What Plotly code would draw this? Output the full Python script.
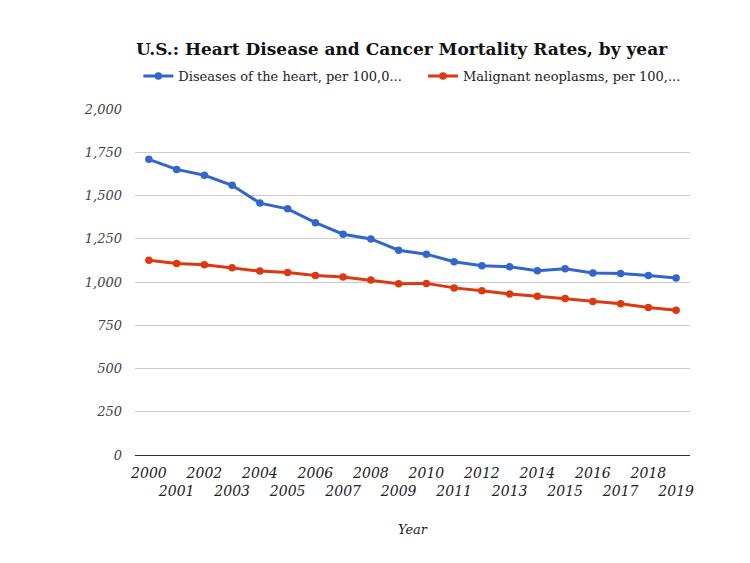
import plotly.graph_objects as go

years = list(range(2000, 2020))
heart = [1709, 1651, 1617, 1559, 1456, 1423, 1343, 1276, 1249, 1184,
         1161, 1117, 1094, 1088, 1065, 1076, 1052, 1049, 1038, 1023]
cancer = [1126, 1107, 1099, 1082, 1063, 1055, 1038, 1029, 1011, 990,
          992, 966, 950, 931, 917, 904, 887, 874, 852, 837]
y_ticks = [0, 250, 500, 750, 1000, 1250, 1500, 1750, 2000]

# odd years go on a second row, like the staggered labels in the original
x_ticktext = [str(y) if y % 2 == 0 else f"<br>{y}" for y in years]

FONT = "DejaVu Serif"
# the page body has an 8px margin, so the figure is sized to fit inside it
W, H = 742, 555

fig = go.Figure()
fig.add_trace(
    go.Scatter(
        x=years,
        y=heart,
        mode="lines+markers",
        name="Diseases of the heart, per 100,0...",
        line={"color": "#3366cc", "width": 3},
        marker={"color": "#3366cc", "size": 7.5},
        legend="legend",
    )
)
fig.add_trace(
    go.Scatter(
        x=years,
        y=cancer,
        mode="lines+markers",
        name="Malignant neoplasms, per 100,...",
        line={"color": "#dc3912", "width": 3},
        marker={"color": "#dc3912", "size": 7.5},
        legend="legend2",
    )
)

fig.update_xaxes(
    range=[1999.5, 2019.5],
    tickvals=years,
    ticktext=x_ticktext,
    tickangle=0,
    showgrid=False,
    showline=True,
    linecolor="#333333",
    linewidth=1,
    ticks="",
    ticklabelstandoff=5,
    tickfont={"family": FONT, "size": 14, "color": "#222222", "style": "italic"},
    title={"text": "Year", "font": {"family": FONT, "size": 13, "color": "#222222", "style": "italic"},
           "standoff": 26},
)
fig.update_yaxes(
    range=[0, 2000],
    tickvals=y_ticks,
    tickformat=",",
    showgrid=True,
    gridcolor="#cccccc",
    zeroline=False,
    ticks="",
    ticklabelstandoff=12,
    tickfont={"family": FONT, "size": 13, "color": "#444444", "style": "italic"},
)

legend_style = {
    "orientation": "h",
    "xanchor": "left",
    "y": 1.095,
    "yanchor": "middle",
    "font": {"family": FONT, "size": 13, "color": "#222222"},
}

fig.update_layout(
    width=W,
    height=H,
    template="plotly_white",
    plot_bgcolor="white",
    paper_bgcolor="white",
    title={
        "text": "<b>U.S.: Heart Disease and Cancer Mortality Rates, by year</b>",
        "font": {"family": FONT, "size": 17, "color": "#111111"},
        "x": 128 / W,
        "xanchor": "left",
        "y": 1 - 41 / H,
        "yanchor": "middle",
    },
    legend={**legend_style, "x": 0.006},
    legend2={**legend_style, "x": 0.519},
    showlegend=True,
    margin={"l": 127, "r": 60, "t": 101, "b": 108},
)

fig.write_html("out.html")
